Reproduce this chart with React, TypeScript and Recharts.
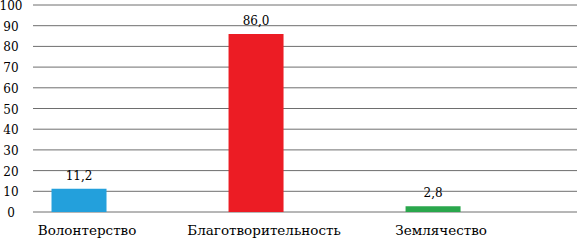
import { BarChart, Bar, XAxis, YAxis, CartesianGrid, Cell, LabelList } from 'recharts'

const categories = ['Волонтерство', 'Благотворительность', 'Землячество']
const values = [11.2, 86.0, 2.8]
const colors = ['#23a0dc', '#ec1c24', '#2aa74c']
const yTicks = [0, 10, 20, 30, 40, 50, 60, 70, 80, 90, 100]

const data = categories.map((name, i) => ({ idx: i, name, value: values[i] }))

const FONT = 'DejaVu Serif'

function YTick({ y, payload }: any) {
  return (
    <text x={11} y={y} dy={5} textAnchor="middle" fontFamily={FONT} fontSize={12} fill="#000">
      {payload.value}
    </text>
  )
}

function XTick({ x, y, payload }: any) {
  return (
    <text x={x + 8} y={y + 15} textAnchor="middle" fontFamily={FONT} fontSize={13.5} fill="#000">
      {categories[payload.value]}
    </text>
  )
}

export default function App() {
  return (
    <div style={{ position: 'absolute', left: 0, top: 0, background: '#fff' }}>
      <BarChart width={577} height={242} data={data} margin={{ top: 5, right: 0, left: 0, bottom: 0 }}>
        <CartesianGrid horizontal vertical={false} stroke="#6e6e6e" strokeWidth={1} />
        <XAxis
          dataKey="idx" type="number" domain={[-0.26, 2.813]} ticks={[0, 1, 2]}
          axisLine={false} tickLine={false} height={30} tick={<XTick />} interval={0}
        />
        <YAxis
          domain={[0, 100]} ticks={yTicks} width={33} axisLine={false} tickLine={false}
          tick={<YTick />} interval={0}
        />
        <Bar dataKey="value" barSize={55} isAnimationActive={false}>
          {data.map((d, i) => <Cell key={d.name} fill={colors[i]} />)}
          <LabelList
            dataKey="value" position="top" offset={9}
            formatter={(v: any) => Number(v).toFixed(1).replace('.', ',')}
            style={{ fontFamily: FONT, fontSize: 12, fill: '#000' }}
          />
        </Bar>
      </BarChart>
    </div>
  )
}
